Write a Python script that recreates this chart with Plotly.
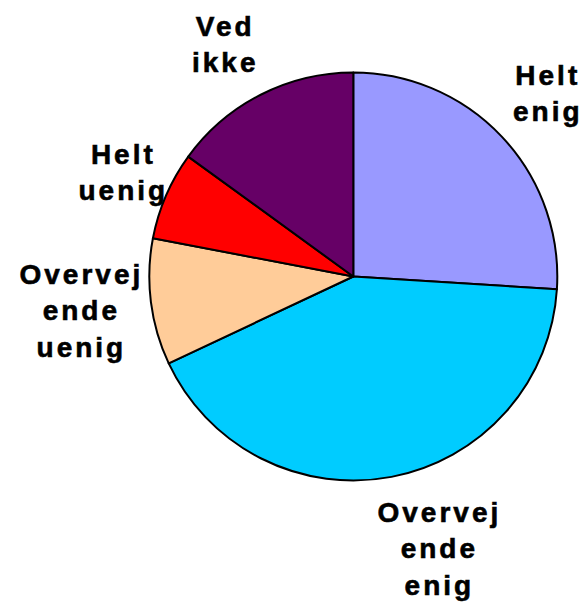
import plotly.graph_objects as go

categories = ["Helt enig", "Overvejende enig", "Overvejende uenig", "Helt uenig", "Ved ikke"]
values = [26, 42, 10, 7, 15]
colors = ["#9999FF", "#00CCFF", "#FFCC99", "#FF0000", "#660066"]
label_lines = [["Helt", "enig"], ["Overvej", "ende", "enig"], ["Overvej", "ende", "uenig"],
               ["Helt", "uenig"], ["Ved", "ikke"]]
# label block centre positions in pixels from top-left
label_px = [(548, 93), (439, 549), (81, 311), (123, 172), (225, 45)]

W, H = 583, 607
cx, cy, r = 353.3, 276.5, 204

fig = go.Figure(go.Pie(
    labels=categories, values=values, sort=False, direction="clockwise", rotation=0,
    marker=dict(colors=colors, line=dict(color="black", width=2)),
    textinfo="none", hoverinfo="label+percent", showlegend=False,
    domain=dict(x=[(cx - r) / W, (cx + r) / W], y=[(H - cy - r) / H, (H - cy + r) / H]),
))

for lines, (px, py) in zip(label_lines, label_px):
    fig.add_annotation(
        x=px / W, y=1 - py / H, xref="paper", yref="paper", showarrow=False,
        text="<br>".join(lines),
        font=dict(family="Arial, Liberation Sans, sans-serif", size=28, color="black", weight="bold"),
        align="center", xanchor="center", yanchor="middle",
    )

fig.update_layout(width=W, height=H, margin=dict(l=0, r=0, t=0, b=0),
                  paper_bgcolor="white", plot_bgcolor="white")

post = """
var gd = document.getElementById('{plot_id}');
function fix() {
  document.body.style.margin = '0';
  document.body.style.overflow = 'hidden';
  gd.querySelectorAll('.annotation-text').forEach(function (t) {
    t.style.letterSpacing = '3px';
    t.style.stroke = 'black';
    t.style.strokeWidth = '0.6px';
  });
}
fix();
setTimeout(fix, 0);
if (gd.on) { gd.on('plotly_afterplot', fix); }
"""
fig.write_html("out.html", post_script=post, config={"displayModeBar": False})
